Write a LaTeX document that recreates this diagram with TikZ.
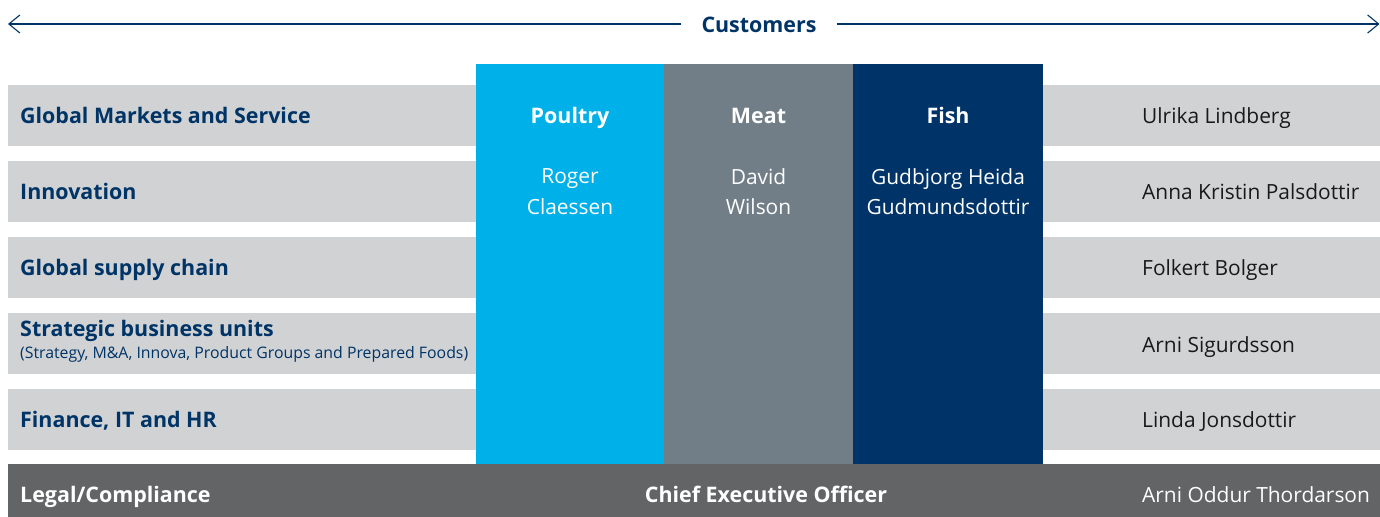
\documentclass[tikz,border=0pt]{standalone}
\usepackage{fontspec}
\setmainfont{Open Sans}
\usepackage{xcolor}
\usetikzlibrary{arrows.meta}

\definecolor{navy}{HTML}{003466}
\definecolor{bargrey}{HTML}{D1D2D4}
\definecolor{poultryblue}{HTML}{00B0E8}
\definecolor{meatgrey}{HTML}{717E87}
\definecolor{fishblue}{HTML}{003468}
\definecolor{ceogrey}{HTML}{636466}

\tikzset{
  unitlabel/.style={anchor=base west, inner sep=0pt, text=navy,
    font=\bfseries\fontsize{21.5}{26}\selectfont},
  personlabel/.style={anchor=base west, inner sep=0pt, text=black!90,
    font=\fontsize{21}{26}\selectfont},
  colhead/.style={anchor=base, inner sep=0pt, text=white,
    font=\bfseries\fontsize{21.5}{26}\selectfont},
  colname/.style={anchor=north, inner sep=0pt, text=white, align=center,
    font=\fontsize{21}{31}\selectfont},
  ceolabel/.style={anchor=base, inner sep=0pt, text=white,
    font=\bfseries\fontsize{21.5}{26}\selectfont},
}

\begin{document}
\begin{tikzpicture}[x=1bp,y=-1bp]
% \draw [help lines,color=green] (0,0) grid[step=100] (1380,517);
\useasboundingbox (0,0) rectangle (1380,517);

% customers arrow
\coordinate (custleft) at (8,24);
\coordinate (custright) at (1379.5,24);
\node [inner xsep=20bp, inner ysep=0pt, text=navy,
  font=\bfseries\fontsize{21.5}{26}\selectfont] (cust) at (759,25) {Customers};
\draw [navy, line width=1.1bp, -{Straight Barb[length=11bp,width=18bp]}]
  (cust.west |- custleft) -- (custleft);
\draw [navy, line width=1.1bp, -{Straight Barb[length=11bp,width=18bp]}]
  (cust.east |- custright) -- (custright);

% grey rows
\foreach \i in {0,...,4}
  \fill [bargrey] (8,85+76*\i) rectangle (1380,146+76*\i);
\fill [ceogrey] (8,464) rectangle (1380,517);

% business columns
\fill [poultryblue] (476,64) rectangle (664,464);
\fill [meatgrey] (664,64) rectangle (853,464);
\fill [fishblue] (853,64) rectangle (1043,464);

\node [colhead] (poultry) at (570,124) {Poultry};
\node [colhead] (meat) at (758.5,124) {Meat};
\node [colhead] (fish) at (948,124) {Fish};
\node [colname] (roger) at (570,168) {Roger\\Claessen};
\node [colname] (david) at (758.5,168) {David\\Wilson};
\node [colname] (gudbjorg) at (948,168) {Gudbjorg Heida\\Gudmundsdottir};

% functions and their heads
\node [unitlabel] (gms) at (20,124) {Global Markets and Service};
\node [unitlabel] (innov) at (20,200) {Innovation};
\node [unitlabel] (supply) at (20,276) {Global supply chain};
\node [unitlabel] (sbu) at (20,336) {Strategic business units};
\node [anchor=base west, inner sep=0pt, text=navy,
  font=\fontsize{15.9}{18}\selectfont] (sbusub) at (20,358)
  {(Strategy, M\&A, Innova, Product Groups and Prepared Foods)};
\node [unitlabel] (fin) at (20,427) {Finance, IT and HR};

\node [personlabel] (ulrika) at (1142,124) {Ulrika Lindberg};
\node [personlabel] (anna) at (1142,200) {Anna Kristin Palsdottir};
\node [personlabel] (folkert) at (1142,276) {Folkert Bolger};
\node [personlabel] (arni) at (1142,352) {Arni Sigurdsson};
\node [personlabel] (linda) at (1142,427) {Linda Jonsdottir};

% bottom line
\node [unitlabel, text=white] (legal) at (20,502) {Legal/Compliance};
\node [ceolabel] (ceo) at (766,502) {Chief Executive Officer};
\node [personlabel, text=white] (arnio) at (1142,502) {Arni Oddur Thordarson};
\end{tikzpicture}
\end{document}
